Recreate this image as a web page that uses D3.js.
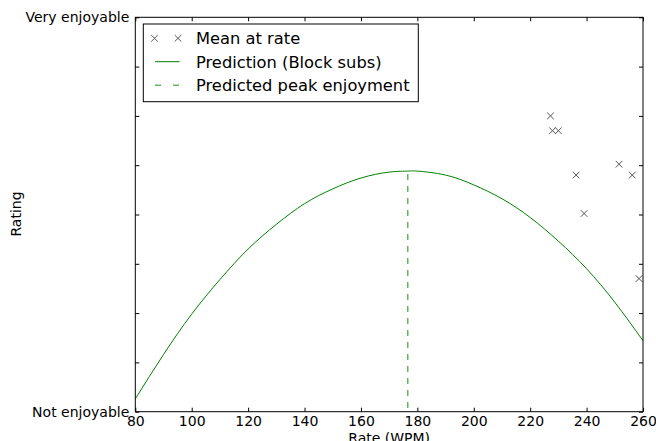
<html>
<head>
    <style>
        body {
            margin: 0;
            background: white;
            font-family: "DejaVu Sans", sans-serif
        }
        svg text {
            fill: black;
        }
    </style>
    <script src="https://cdn.jsdelivr.net/npm/d3@7"></script>
</head>

<body>
    <svg id="chart"></svg>
</body>

<script>
    // mean ratings (crosses)
    let meanWpm = [227.2, 227.9, 230.0, 236.3, 239.1, 251.5, 256.2, 258.6]
    let meanRating = [4.00, 3.85, 3.85, 3.40, 3.01, 3.51, 3.40, 2.35]

    // fitted prediction
    let predWpm = [80, 90, 100, 110, 120, 130, 140, 150, 160, 170, 176.6, 180, 190, 200, 210, 220, 230, 240, 250, 260]
    let predRating = [1.13, 1.58, 1.99, 2.34, 2.65, 2.90, 3.11, 3.26, 3.37, 3.43, 3.44, 3.44, 3.40, 3.30, 3.16, 2.97, 2.73, 2.45, 2.11, 1.72]

    let peakWpm = 176.6
    let peakRating = 3.44

    let xTicks = [80, 100, 120, 140, 160, 180, 200, 220, 240, 260]
    let yTicks = [1, 1.5, 2, 2.5, 3, 3.5, 4, 4.5, 5]
    let yTickLabels = { 1: "Not enjoyable", 5: "Very enjoyable" }
    let legendLabels = ["Mean at rate", "Prediction (Block subs)", "Predicted peak enjoyment"]

    function configuration() {
        let width = 656
        let height = 441
        let margin = { top: 17.3, bottom: 29.3, left: 135.3, right: 13 }
        let bodyWidth = width - margin.left - margin.right
        let bodyHeight = height - margin.top - margin.bottom
        let container = d3.select("#chart")
            .attr("width", width)
            .attr("height", height)
        return { width, height, margin, bodyWidth, bodyHeight, container }
    }

    function scales(config) {
        let { bodyWidth, bodyHeight } = config
        let xScale = d3.scaleLinear().domain([80, 260]).range([0, bodyWidth])
        let yScale = d3.scaleLinear().domain([1, 5]).range([bodyHeight, 0])
        return { xScale, yScale }
    }

    function drawAxes(scales, config) {
        let { xScale, yScale } = scales
        let { container, margin, bodyWidth, bodyHeight } = config
        let g = container.append("g")
            .attr("transform", `translate(${margin.left},${margin.top})`)

        let bottom = g.append("g")
            .attr("transform", `translate(0,${bodyHeight})`)
            .call(d3.axisBottom(xScale).tickValues(xTicks).tickSize(-4).tickPadding(4))
        let top = g.append("g")
            .call(d3.axisTop(xScale).tickValues(xTicks).tickSize(-4).tickFormat(""))
        let left = g.append("g")
            .call(d3.axisLeft(yScale).tickValues(yTicks).tickSize(-4).tickPadding(6)
                .tickFormat(d => yTickLabels[d] || ""))
        let right = g.append("g")
            .attr("transform", `translate(${bodyWidth},0)`)
            .call(d3.axisRight(yScale).tickValues(yTicks).tickSize(-4).tickFormat(""))

        ;[bottom, top, left, right].forEach(a => {
            a.select(".domain").remove()
            a.selectAll("text")
                .style("font-family", "DejaVu Sans")
                .style("font-size", "14px")
                .attr("fill", "black")
            a.selectAll("line").attr("stroke", "black")
        })

        g.append("rect")
            .attr("width", bodyWidth)
            .attr("height", bodyHeight)
            .attr("fill", "none")
            .attr("stroke", "black")
            .attr("stroke-width", 1)

        container.append("text")
            .attr("x", margin.left + bodyWidth / 2)
            .attr("y", 443)
            .attr("text-anchor", "middle")
            .style("font-size", "14px")
            .text("Rate (WPM)")

        container.append("text")
            .attr("transform", `translate(21,214) rotate(-90)`)
            .attr("text-anchor", "middle")
            .style("font-size", "14px")
            .text("Rating")
    }

    function drawMarks(scales, config) {
        let { xScale, yScale } = scales
        let { container, margin, bodyWidth, bodyHeight } = config
        container.append("clipPath").attr("id", "clip")
            .append("rect").attr("width", bodyWidth).attr("height", bodyHeight)
        let body = container.append("g")
            .attr("transform", `translate(${margin.left},${margin.top})`)
        let plot = body.append("g").attr("clip-path", "url(#clip)")

        let line = d3.line()
            .x(i => xScale(predWpm[i]))
            .y(i => yScale(predRating[i]))
            .curve(d3.curveNatural)
        plot.append("path")
            .attr("d", line(d3.range(predWpm.length)))
            .attr("fill", "none")
            .attr("stroke", "#008000")
            .attr("stroke-width", 1)

        plot.append("line")
            .attr("x1", xScale(peakWpm))
            .attr("x2", xScale(peakWpm))
            .attr("y1", yScale(peakRating))
            .attr("y2", yScale(1))
            .attr("stroke", "#008000")
            .attr("stroke-opacity", 0.6)
            .attr("stroke-width", 1.5)
            .attr("stroke-dasharray", "6,6")
            .attr("stroke-dashoffset", -3)

        let s = 3.3
        body.selectAll(".cross")
            .data(d3.range(meanWpm.length))
            .enter().append("path")
            .attr("class", "cross")
            .attr("transform", i => `translate(${xScale(meanWpm[i])},${yScale(meanRating[i])})`)
            .attr("d", `M${-s},${-s}L${s},${s}M${-s},${s}L${s},${-s}`)
            .attr("stroke", "#555")
            .attr("stroke-width", 1)
    }

    function drawLegend(config) {
        let { container } = config
        let lg = container.append("g")
        lg.append("rect")
            .attr("x", 143.3).attr("y", 24)
            .attr("width", 275).attr("height", 77.7)
            .attr("fill", "white")
            .attr("stroke", "black")
            .attr("stroke-width", 1)

        let rowY = [38.3, 61.7, 85.2]
        let s = 3.3
        ;[154.5, 178].forEach(cx => {
            lg.append("path")
                .attr("d", `M${cx - s},${rowY[0] - s}L${cx + s},${rowY[0] + s}M${cx - s},${rowY[0] + s}L${cx + s},${rowY[0] - s}`)
                .attr("stroke", "#555")
        })
        lg.append("line")
            .attr("x1", 155).attr("x2", 179.5)
            .attr("y1", rowY[1]).attr("y2", rowY[1])
            .attr("stroke", "#008000")
        lg.append("line")
            .attr("x1", 155).attr("x2", 179.5)
            .attr("y1", rowY[2]).attr("y2", rowY[2])
            .attr("stroke", "#008000")
            .attr("stroke-opacity", 0.6)
            .attr("stroke-width", 1.5)
            .attr("stroke-dasharray", "6,12")

        lg.selectAll(".lbl")
            .data(legendLabels)
            .enter().append("text")
            .attr("x", 196)
            .attr("y", (d, i) => rowY[i])
            .attr("dy", "0.36em")
            .style("font-size", "16.3px")
            .text(d => d)
    }

    let config = configuration()
    let sc = scales(config)
    drawMarks(sc, config)
    drawAxes(sc, config)
    drawLegend(config)
</script>
</html>
